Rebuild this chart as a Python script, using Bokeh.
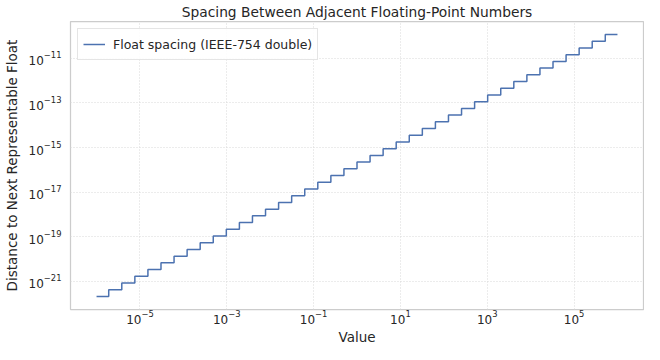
from bokeh.plotting import figure
from bokeh.models import Range1d, FixedTicker, Legend, Title
from bokeh.embed import file_html
from bokeh.resources import INLINE

# Step edges: start of each binade between 1e-6 and 1e6 (last value is the end point)
step_x = [1e-06, 1.9073486328125e-06, 3.814697265625e-06, 7.62939453125e-06,
          1.52587890625e-05, 3.0517578125e-05, 6.103515625e-05, 1.220703125e-04,
          2.44140625e-04, 4.8828125e-04, 9.765625e-04, 1.953125e-03, 3.90625e-03,
          7.8125e-03, 0.015625, 0.03125, 0.0625, 0.125, 0.25, 0.5, 1.0, 2.0, 4.0,
          8.0, 16.0, 32.0, 64.0, 128.0, 256.0, 512.0, 1024.0, 2048.0, 4096.0,
          8192.0, 16384.0, 32768.0, 65536.0, 131072.0, 262144.0, 524288.0, 1e6]

# Spacing (ulp) within each binade; the last value is repeated for the end point
spacing = [2.117582e-22, 4.235165e-22, 8.470329e-22, 1.694066e-21, 3.388132e-21,
           6.776264e-21, 1.355253e-20, 2.710505e-20, 5.421011e-20, 1.084202e-19,
           2.168404e-19, 4.336809e-19, 8.673617e-19, 1.734723e-18, 3.469447e-18,
           6.938894e-18, 1.387779e-17, 2.775558e-17, 5.551115e-17, 1.110223e-16,
           2.220446e-16, 4.440892e-16, 8.881784e-16, 1.776357e-15, 3.552714e-15,
           7.105427e-15, 1.421085e-14, 2.842171e-14, 5.684342e-14, 1.136868e-13,
           2.273737e-13, 4.547474e-13, 9.094947e-13, 1.818989e-12, 3.637979e-12,
           7.275958e-12, 1.455192e-11, 2.910383e-11, 5.820766e-11, 1.164153e-10,
           1.164153e-10]

x_ticks = [1e-5, 1e-3, 1e-1, 1e1, 1e3, 1e5]
y_ticks = [1e-21, 1e-19, 1e-17, 1e-15, 1e-13, 1e-11]

FONT = "DejaVu Sans"
TXT = "#262626"

p = figure(width=644, height=344, x_axis_type="log", y_axis_type="log",
           x_range=Range1d(10**-6.6, 10**6.6), y_range=Range1d(10**-22.26, 10**-9.35),
           output_backend="svg", toolbar_location=None,
           title="Spacing Between Adjacent Floating-Point Numbers",
           min_border_left=10, min_border_right=1, min_border_top=10, min_border_bottom=0)

p.title.align = "center"
p.title.text_font = FONT
p.title.text_font_size = "13.8px"
p.title.text_font_style = "normal"
p.title.text_color = TXT
p.title.standoff = 3

r = p.step(step_x, spacing, mode="after", line_color="#4c72b0", line_width=1.5)

p.xaxis.ticker = FixedTicker(ticks=x_ticks)
p.yaxis.ticker = FixedTicker(ticks=y_ticks)

for ax in (p.xaxis[0], p.yaxis[0]):
    ax.axis_line_color = None
    ax.major_tick_line_color = None
    ax.minor_tick_line_color = None
    ax.major_tick_out = 0
    ax.major_tick_in = 0
    ax.minor_tick_out = 0
    ax.minor_tick_in = 0
    ax.major_label_text_font = FONT
    ax.major_label_text_font_size = "12px"
    ax.major_label_text_color = TXT
    ax.axis_label_text_font = FONT
    ax.axis_label_text_font_size = "13.5px"
    ax.axis_label_text_font_style = "normal"
    ax.axis_label_text_color = TXT

p.yaxis.axis_label = "Distance to Next Representable Float"
p.xaxis.major_label_standoff = 0
p.yaxis.major_label_standoff = 9
p.yaxis.axis_label_standoff = 6

# x-axis title as a panel below the axis
x_title = Title(text="Value", align="center", text_font=FONT, text_font_size="13.5px",
                text_font_style="normal", text_color=TXT, standoff=0, offset=0)
p.add_layout(x_title, "below")

p.grid.grid_line_color = "#d9d9d9"
p.grid.grid_line_dash = "1 2"
p.grid.grid_line_width = 1

p.outline_line_color = "#cccccc"
p.outline_line_width = 1.25
p.background_fill_color = "white"
p.border_fill_color = "white"

legend = Legend(items=[("Float spacing (IEEE-754 double)", [r])], location="top_left")
legend.label_text_font = FONT
legend.label_text_font_size = "12.5px"
legend.label_text_color = TXT
legend.border_line_color = "#cccccc"
legend.border_line_width = 1
legend.margin = 7
legend.padding = 5
legend.glyph_width = 22
legend.label_standoff = 8
legend.background_fill_alpha = 0.9
p.add_layout(legend)

open("out.html", "w").write(file_html(p, INLINE))
